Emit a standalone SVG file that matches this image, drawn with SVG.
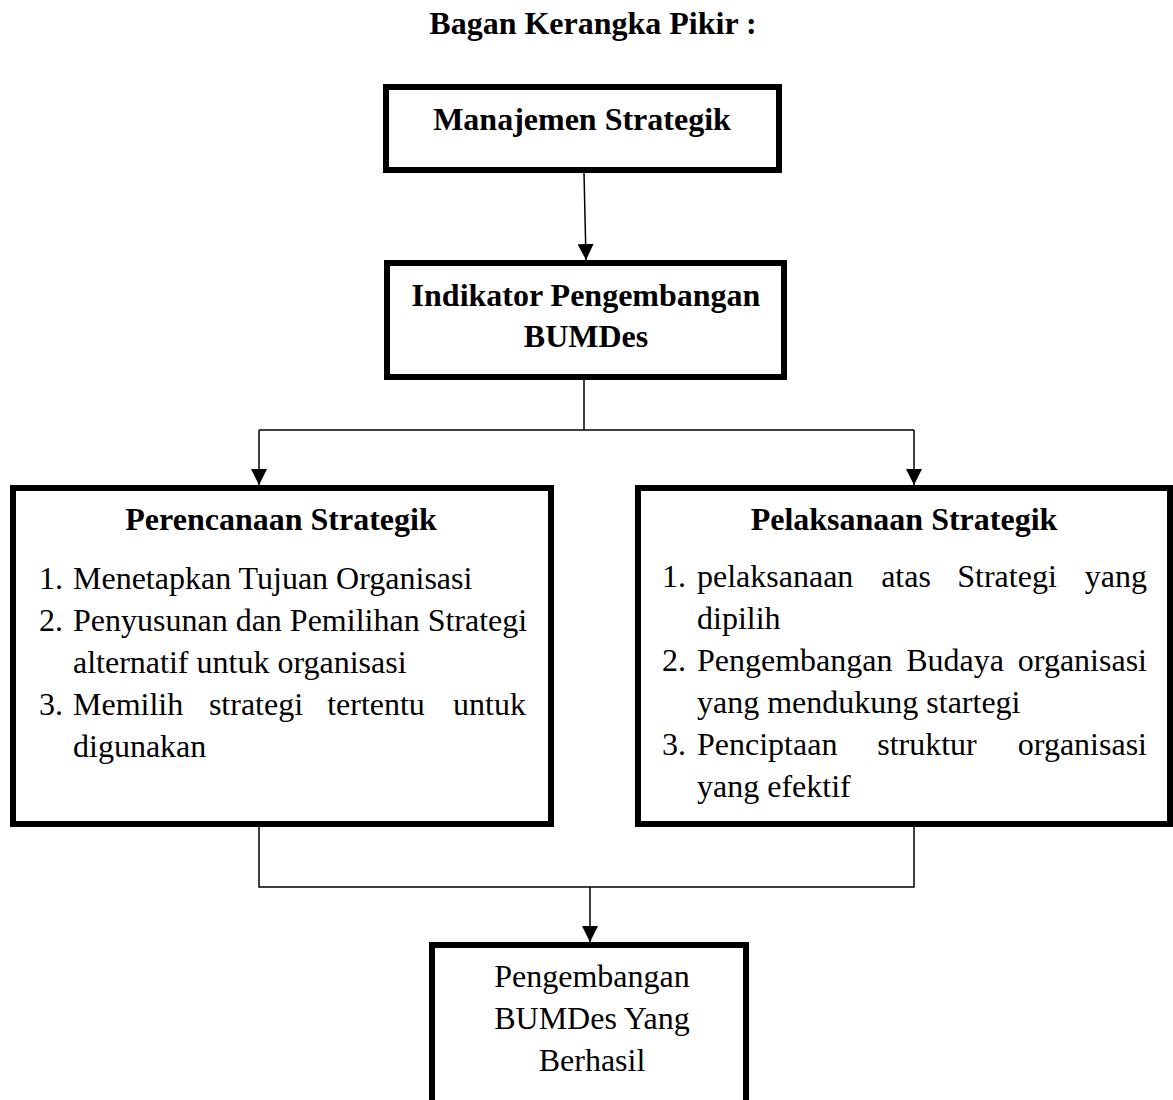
<svg xmlns="http://www.w3.org/2000/svg" width="1173" height="1100" viewBox="0 0 1173 1100">
<style>
text{font-family:"Liberation Serif","Times New Roman",serif;font-size:32px;fill:#000}
.b{font-weight:bold}
.c{text-anchor:middle}
.e{text-anchor:end}
.box{fill:#fff;stroke:#000;stroke-width:6}
.ln{fill:none;stroke:#000;stroke-width:1.5}
</style>
<defs>
<marker id="ar" markerUnits="userSpaceOnUse" markerWidth="16" markerHeight="16" refX="16" refY="8" orient="auto">
<path d="M0,0 L16,8 L0,16 z" fill="#000"/>
</marker>
</defs>
<rect width="1173" height="1100" fill="#fff"/>
<text class="b c" x="593" y="34">Bagan Kerangka Pikir :</text>

<g id="connectors">
<line class="ln" x1="584" y1="173" x2="586" y2="260" marker-end="url(#ar)"/>
<polyline class="ln" points="584,380 584,430"/>
<polyline class="ln" points="259,430 914,430"/>
<line class="ln" x1="259" y1="430" x2="259" y2="485" marker-end="url(#ar)"/>
<line class="ln" x1="914" y1="430" x2="914" y2="485" marker-end="url(#ar)"/>
<polyline class="ln" points="259,827 259,887 914,887 914,827"/>
<line class="ln" x1="590" y1="887" x2="590" y2="942" marker-end="url(#ar)"/>
</g>

<g id="n1">
<rect class="box" x="386" y="87" width="393" height="83"/>
<text class="b c" x="582" y="130">Manajemen Strategik</text>
</g>

<g id="n2">
<rect class="box" x="387" y="263" width="397" height="114"/>
<text class="b c" x="586" y="306">Indikator Pengembangan</text>
<text class="b c" x="586" y="347">BUMDes</text>
</g>

<g id="n3">
<rect class="box" x="13" y="488" width="538" height="336"/>
<text class="b c" x="281" y="530">Perencanaan Strategik</text>
<text x="39" y="589">1.</text>
<text x="73" y="589">Menetapkan Tujuan Organisasi</text>
<text x="39" y="631">2.</text>
<text x="73" y="631">Penyusunan dan Pemilihan Strategi</text>
<text x="73" y="673">alternatif untuk organisasi</text>
<text x="39" y="715">3.</text>
<text x="73" y="715">Memilih</text>
<text class="c" x="256" y="715">strategi</text>
<text class="c" x="376" y="715">tertentu</text>
<text class="e" x="526" y="715">untuk</text>
<text x="73" y="757">digunakan</text>
</g>

<g id="n4">
<rect class="box" x="638" y="488" width="532" height="336"/>
<text class="b c" x="904" y="530">Pelaksanaan Strategik</text>
<text x="662" y="587">1.</text>
<text x="697" y="587">pelaksanaan</text>
<text class="c" x="906" y="587">atas</text>
<text class="c" x="1007" y="587">Strategi</text>
<text class="e" x="1147" y="587">yang</text>
<text x="697" y="629">dipilih</text>
<text x="662" y="671">2.</text>
<text x="697" y="671">Pengembangan</text>
<text class="c" x="955" y="671">Budaya</text>
<text class="e" x="1147" y="671">organisasi</text>
<text x="697" y="713">yang mendukung startegi</text>
<text x="662" y="755">3.</text>
<text x="697" y="755">Penciptaan</text>
<text class="c" x="927" y="755">struktur</text>
<text class="e" x="1147" y="755">organisasi</text>
<text x="697" y="797">yang efektif</text>
</g>

<g id="n5">
<rect class="box" x="432" y="945" width="314" height="170"/>
<text class="c" x="592" y="987">Pengembangan</text>
<text class="c" x="592" y="1029">BUMDes Yang</text>
<text class="c" x="592" y="1071">Berhasil</text>
</g>
</svg>
